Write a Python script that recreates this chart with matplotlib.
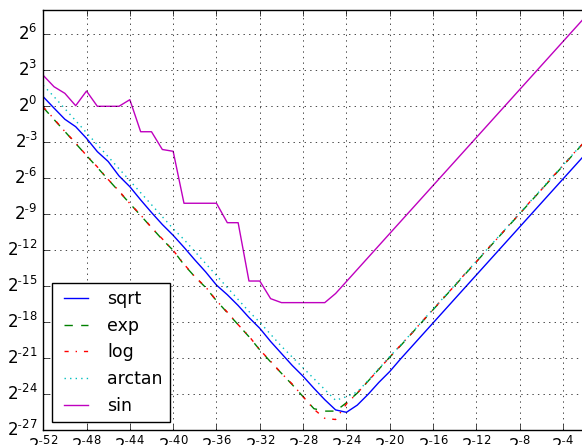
import numpy as np
import matplotlib
matplotlib.use('Agg')
import matplotlib.pyplot as plt
from matplotlib.ticker import FixedLocator, NullLocator, FuncFormatter

# step sizes h = 2**k, errors stored as log2 values
k = list(range(-52, 0))

sqrt_err = [0.8, -0.15, -1.08, -1.7, -2.67, -3.78, -4.6, -5.8, -6.7, -7.8,
            -8.85, -9.85, -10.75, -11.75, -12.8, -13.8, -14.9, -15.7, -16.6, -17.6,
            -18.5, -19.6, -20.6, -21.6, -22.5, -23.5, -24.45, -25.3, -25.5, -24.9,
            -24.0, -23.0, -22.1, -21.05, -20.05, -19.05, -18.05, -17.05, -16.05, -15.05,
            -14.05, -13.05, -12.05, -11.05, -10.05, -9.05, -8.05, -7.05, -6.05, -5.05,
            -4.05, -3.05]

exp_err = [-0.1, -1.1, -2.1, -3.1, -4.1, -5.1, -6.1, -7.1, -8.1, -9.1,
           -10.1, -11.1, -12.0, -13.2, -14.2, -15.1, -16.2, -17.2, -18.2, -19.2,
           -20.3, -21.3, -22.25, -23.2, -24.2, -25.2, -25.4, -25.4, -24.7, -23.9,
           -22.9, -21.9, -20.9, -19.95, -18.95, -17.95, -16.95, -15.95, -14.95, -13.95,
           -12.95, -11.95, -10.95, -9.95, -8.95, -7.95, -6.95, -5.95, -4.95, -3.95,
           -2.95, -1.95]

log_err = [-0.05, -1.05, -2.1, -3.05, -4.1, -5.05, -6.1, -7.05, -8.1, -9.05,
           -10.1, -11.05, -12.0, -13.15, -14.2, -15.05, -16.2, -17.15, -18.2, -19.15,
           -20.3, -21.25, -22.25, -23.15, -24.2, -25.25, -26.0, -26.1, -24.8, -23.9,
           -22.9, -21.9, -20.9, -19.9, -18.95, -17.9, -16.95, -15.9, -14.95, -13.9,
           -12.95, -11.9, -10.95, -9.9, -8.95, -7.9, -6.95, -5.9, -4.95, -3.9,
           -2.95, -1.9]

arctan_err = [1.75, 0.8, -0.2, -1.2, -2.2, -3.2, -4.2, -5.2, -6.2, -7.2,
              -8.2, -9.2, -10.2, -11.1, -12.1, -13.1, -14.1, -15.1, -16.1, -17.1,
              -18.0, -19.0, -20.0, -20.9, -21.8, -22.7, -23.6, -24.5, -24.2, -23.8,
              -22.85, -21.85, -20.85, -19.9, -18.9, -17.9, -16.9, -15.9, -14.9, -13.9,
              -12.9, -11.9, -10.9, -9.9, -8.9, -7.9, -6.9, -5.9, -4.9, -3.9,
              -2.9, -1.9]

sin_err = [2.58, 1.63, 1.08, 0.05, 1.27, 0.0, 0.0, 0.0, 0.55, -2.12,
           -2.12, -3.6, -3.75, -8.08, -8.08, -8.08, -8.08, -9.7, -9.7, -14.56,
           -14.56, -16.03, -16.36, -16.36, -16.36, -16.36, -16.36, -15.6, -14.6, -13.6,
           -12.6, -11.6, -10.6, -9.6, -8.6, -7.6, -6.6, -5.6, -4.6, -3.6,
           -2.6, -1.6, -0.6, 0.4, 1.4, 2.4, 3.4, 4.4, 5.4, 6.4,
           7.4, 8.4]

x_ticks = list(range(-52, 1, 4))
y_ticks = list(range(-27, 9, 3))


def pow2_label(v, pos):
    e = int(round(np.log2(v)))
    if e < 0:
        return r'$\mathdefault{2^{\text{-}%d}}$' % (-e)
    return r'$\mathdefault{2^{%d}}$' % e


plt.style.use('classic')
fig = plt.figure(figsize=(5.82, 4.45), dpi=100, facecolor='white')
ax = fig.add_axes([0.0742, 0.033, 0.9677, 0.9439])

h = 2.0 ** np.array(k)
ax.plot(h, 2.0 ** np.array(sqrt_err), 'b-', label='sqrt')
ax.plot(h, 2.0 ** np.array(exp_err), 'g--', label='exp')
ax.plot(h, 2.0 ** np.array(log_err), 'r-.', label='log')
ax.plot(h, 2.0 ** np.array(arctan_err), 'c:', label='arctan')
ax.plot(h, 2.0 ** np.array(sin_err), 'm-', label='sin')

ax.set_xscale('log', base=2)
ax.set_yscale('log', base=2)
ax.set_xlim(2.0 ** -52, 2.0 ** 0)
ax.set_ylim(2.0 ** -27, 2.0 ** 8)
ax.xaxis.set_major_locator(FixedLocator(2.0 ** np.array(x_ticks)))
ax.yaxis.set_major_locator(FixedLocator(2.0 ** np.array(y_ticks)))
ax.xaxis.set_minor_locator(NullLocator())
ax.yaxis.set_minor_locator(NullLocator())
ax.xaxis.set_major_formatter(FuncFormatter(pow2_label))
ax.yaxis.set_major_formatter(FuncFormatter(pow2_label))
ax.tick_params(labelsize=12)
ax.grid(True)

ax.legend(loc='lower left', fontsize=12.5)

fig.savefig('out.png', dpi=100, facecolor='white')
